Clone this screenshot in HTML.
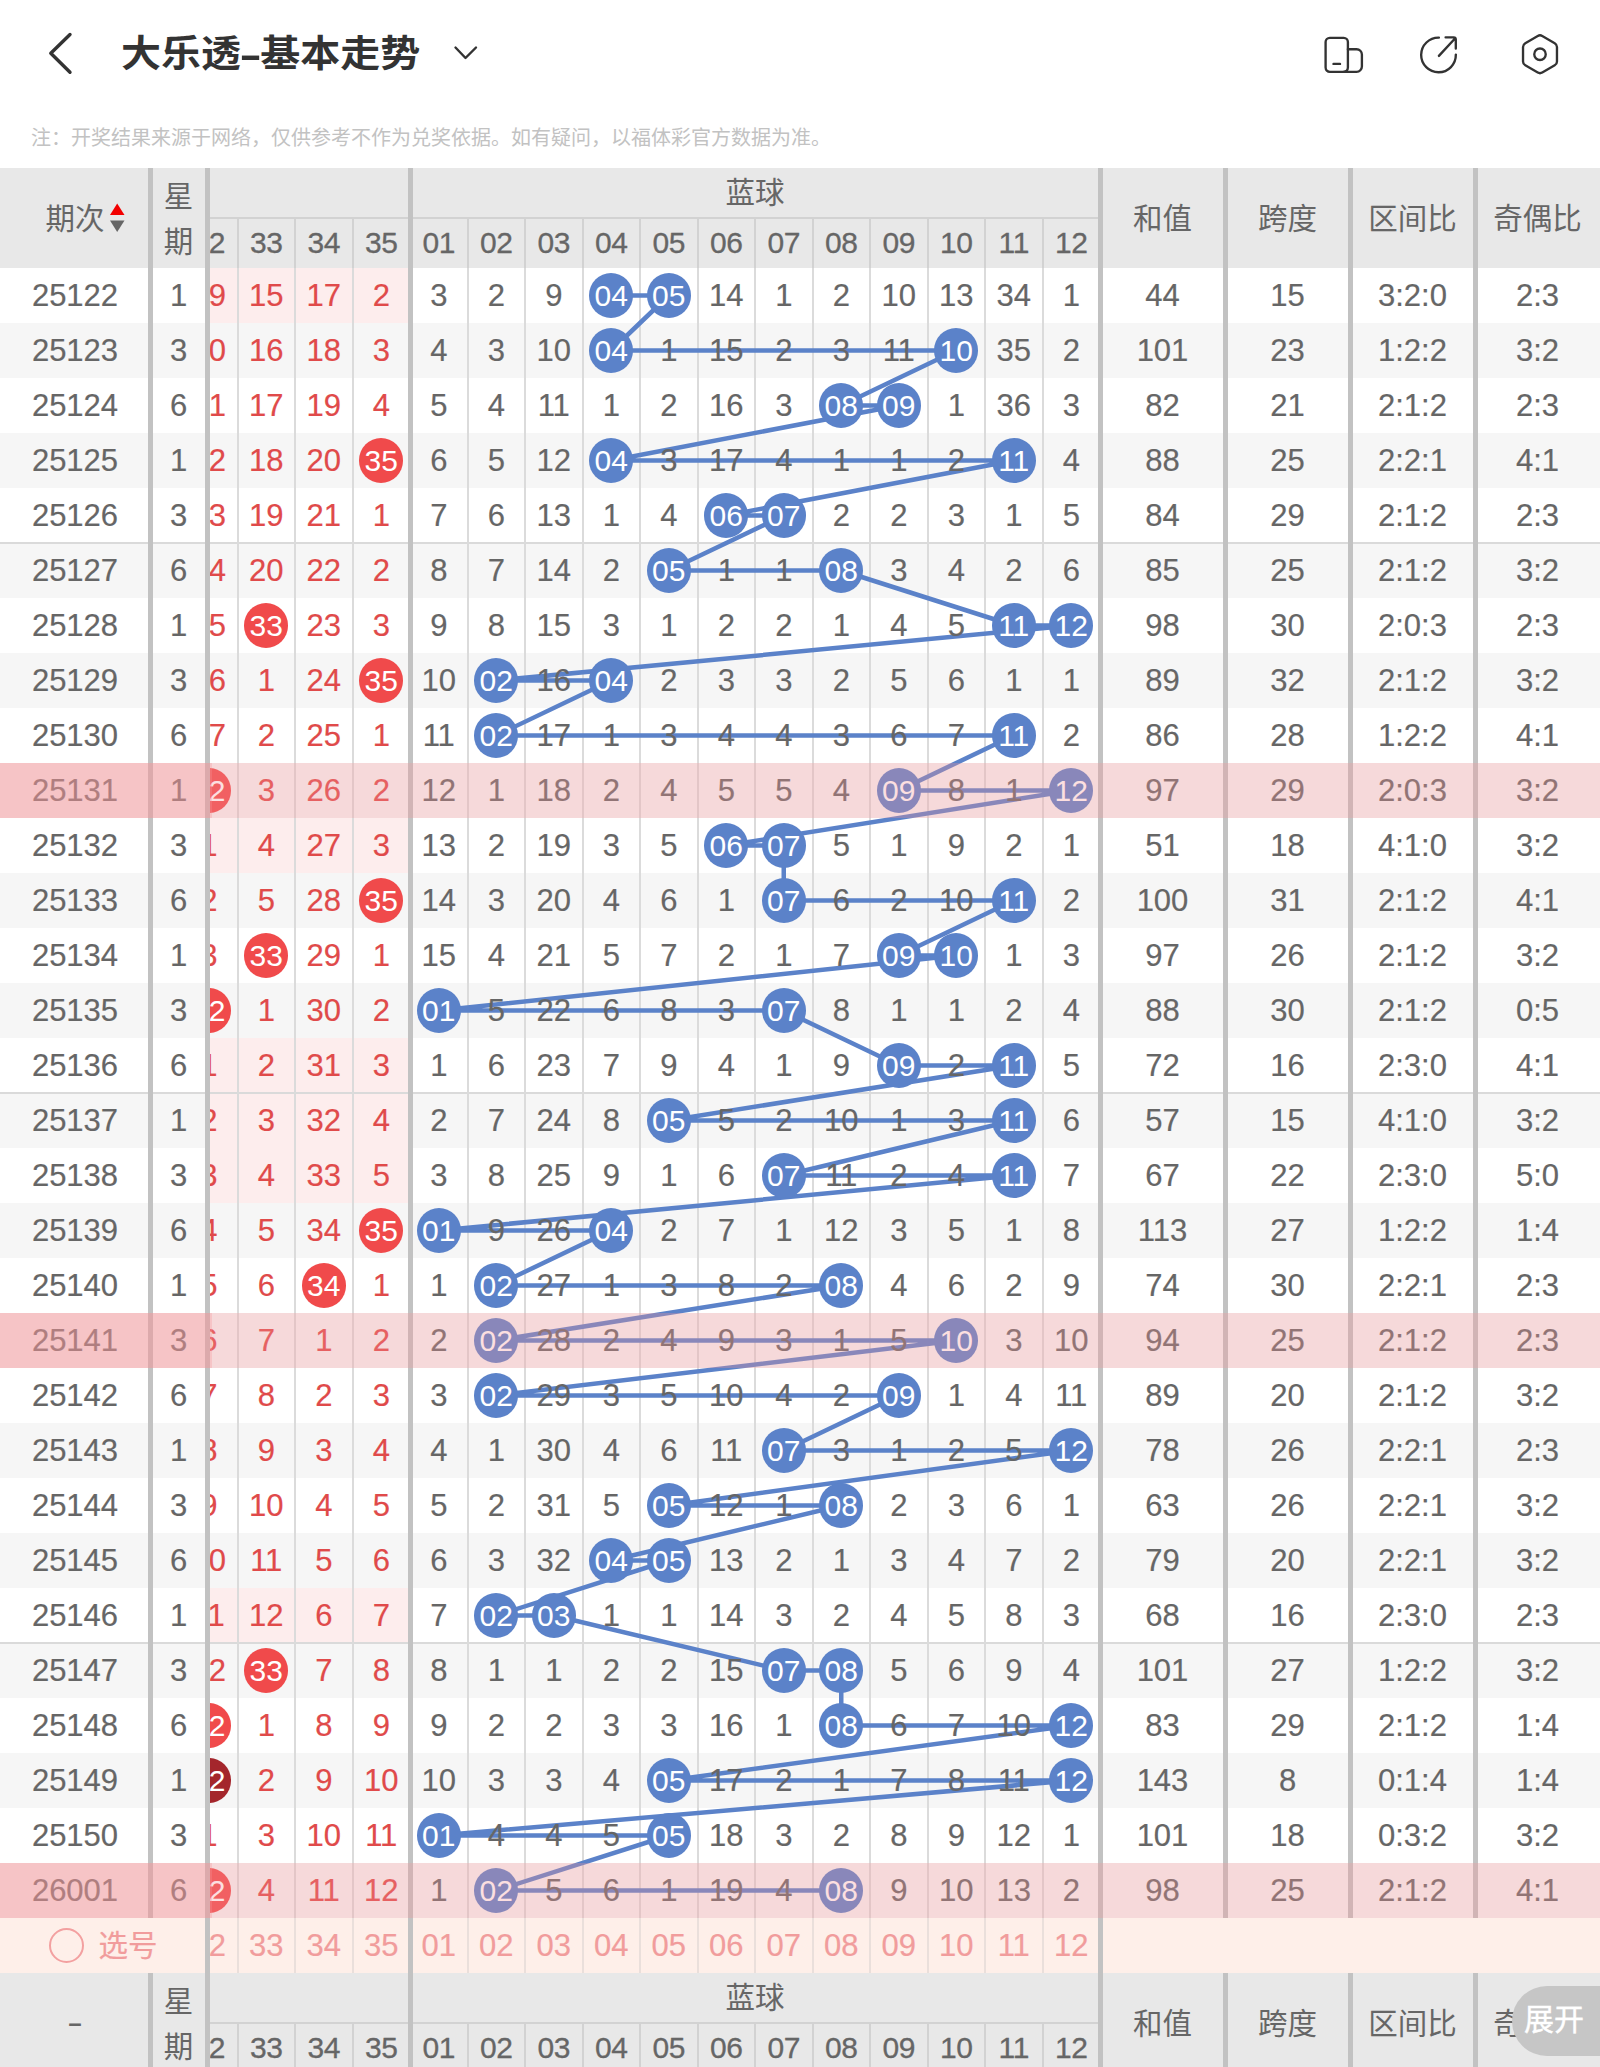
<!DOCTYPE html>
<html lang="zh-CN"><head><meta charset="utf-8"><title>大乐透-基本走势</title>
<style>
html,body{margin:0;padding:0;background:#fff;}
body{width:1600px;height:2067px;position:relative;overflow:hidden;font-family:"Liberation Sans","Noto Sans CJK SC",sans-serif;color:#666;}
.a{position:absolute;}
.t{position:absolute;height:55px;line-height:56px;text-align:center;font-size:31px;white-space:nowrap;-webkit-text-stroke:0.2px;}
.r{color:#e04a4a;}
.g{color:#666;}
.b{position:absolute;width:44.4px;height:45px;border-radius:50%;color:#fff;font-size:30px;line-height:46.2px;text-align:center;}
.bb{background:#5b82c9;}
.rb{background:#f04a4b;}
.db{background:#a4262c;}
.h{position:absolute;text-align:center;font-size:29.5px;color:#666;white-space:nowrap;}
.hn{position:absolute;height:50px;line-height:50px;text-align:center;font-size:30px;color:#666;-webkit-text-stroke:0.3px;letter-spacing:-0.4px;}
.vs{position:absolute;width:5px;background:#c2c2c2;}
.vl{position:absolute;width:2px;background:#dbdbdb;}
.s{position:absolute;height:55px;line-height:56px;text-align:center;font-size:31px;color:#f19c9c;-webkit-text-stroke:0.2px;}
#title{left:121px;top:23px;font-size:40px;line-height:60px;font-weight:bold;color:#333;white-space:nowrap;transform:scaleY(0.935);transform-origin:0 48.5px;}
#note{left:31px;top:123px;font-size:20px;line-height:30px;color:#c2c2c2;white-space:nowrap;}
</style></head><body>

<svg class="a" style="left:40px;top:25px" width="40" height="58" viewBox="40 25 40 58"><polyline points="70,34.5 50.8,53.3 70,72.3" fill="none" stroke="#333" stroke-width="3.4" stroke-linecap="round" stroke-linejoin="round"/></svg>
<div class="a" id="title">大乐透<span style="display:inline-block;margin:0 3px;transform:scaleX(1.7)">-</span>基本走势</div>
<svg class="a" style="left:445px;top:35px" width="40" height="36" viewBox="445 35 40 36"><polyline points="455.5,47.5 465.5,58 476,47.5" fill="none" stroke="#333" stroke-width="2.4" stroke-linecap="round" stroke-linejoin="round"/></svg>
<svg class="a" style="left:1310px;top:25px" width="280" height="60" viewBox="1310 25 280 60" fill="none" stroke="#333" stroke-width="2.35" stroke-linecap="round" stroke-linejoin="round">
<rect x="1325.6" y="37.8" width="22.3" height="34" rx="4.2"/>
<path d="M1347.9 49.2h8.7a5.3 5.3 0 0 1 5.3 5.3v12a5.3 5.3 0 0 1 -5.3 5.3h-13"/>
<path d="M1333.5 63.9h6.5"/>
<path d="M1438.9 37.6A17.35 17.35 0 1 0 1455.85 54.6"/>
<path d="M1438.9 55.9L1455.2 38.3M1445.6 37.3H1453.6a2.2 2.2 0 0 1 2.2 2.2V48.5"/>
<path d="M1542.25 35.95L1554.72 43.15A4.5 4.5 0 0 1 1556.97 47.05L1556.97 61.45A4.5 4.5 0 0 1 1554.72 65.35L1542.25 72.55A4.5 4.5 0 0 1 1537.75 72.55L1525.28 65.35A4.5 4.5 0 0 1 1523.03 61.45L1523.03 47.05A4.5 4.5 0 0 1 1525.28 43.15L1537.75 35.95A4.5 4.5 0 0 1 1542.25 35.95Z"/>
<circle cx="1540" cy="54.25" r="5.75"/>
</svg>
<div class="a" id="note">注：开奖结果来源于网络，仅供参考不作为兑奖依据。如有疑问，以福体彩官方数据为准。</div>
<div class="a" id="scroll" style="left:210px;top:0;width:1390px;height:2067px;overflow:hidden"><div class="a" style="left:-210px;top:0;width:1600px;height:2067px">
<div class="a" style="left:0;top:268px;width:1600px;height:55px;background:#fff"></div>
<div class="a" style="left:180px;top:268px;width:230px;height:55px;background:#fdeded"></div>
<div class="a" style="left:0;top:323px;width:1600px;height:55px;background:#f6f6f6"></div>
<div class="a" style="left:0;top:378px;width:1600px;height:55px;background:#fff"></div>
<div class="a" style="left:0;top:433px;width:1600px;height:55px;background:#f6f6f6"></div>
<div class="a" style="left:0;top:488px;width:1600px;height:55px;background:#fff"></div>
<div class="a" style="left:0;top:543px;width:1600px;height:55px;background:#f6f6f6"></div>
<div class="a" style="left:0;top:598px;width:1600px;height:55px;background:#fff"></div>
<div class="a" style="left:0;top:653px;width:1600px;height:55px;background:#f6f6f6"></div>
<div class="a" style="left:0;top:708px;width:1600px;height:55px;background:#fff"></div>
<div class="a" style="left:0;top:763px;width:1600px;height:55px;background:#f6f6f6"></div>
<div class="a" style="left:0;top:818px;width:1600px;height:55px;background:#fff"></div>
<div class="a" style="left:180px;top:818px;width:230px;height:55px;background:#fdeded"></div>
<div class="a" style="left:0;top:873px;width:1600px;height:55px;background:#f6f6f6"></div>
<div class="a" style="left:0;top:928px;width:1600px;height:55px;background:#fff"></div>
<div class="a" style="left:0;top:983px;width:1600px;height:55px;background:#f6f6f6"></div>
<div class="a" style="left:0;top:1038px;width:1600px;height:55px;background:#fff"></div>
<div class="a" style="left:180px;top:1038px;width:230px;height:55px;background:#fdeded"></div>
<div class="a" style="left:0;top:1093px;width:1600px;height:55px;background:#f6f6f6"></div>
<div class="a" style="left:180px;top:1093px;width:230px;height:55px;background:#fdeded"></div>
<div class="a" style="left:0;top:1148px;width:1600px;height:55px;background:#fff"></div>
<div class="a" style="left:180px;top:1148px;width:230px;height:55px;background:#fdeded"></div>
<div class="a" style="left:0;top:1203px;width:1600px;height:55px;background:#f6f6f6"></div>
<div class="a" style="left:0;top:1258px;width:1600px;height:55px;background:#fff"></div>
<div class="a" style="left:0;top:1313px;width:1600px;height:55px;background:#f6f6f6"></div>
<div class="a" style="left:0;top:1368px;width:1600px;height:55px;background:#fff"></div>
<div class="a" style="left:0;top:1423px;width:1600px;height:55px;background:#f6f6f6"></div>
<div class="a" style="left:0;top:1478px;width:1600px;height:55px;background:#fff"></div>
<div class="a" style="left:0;top:1533px;width:1600px;height:55px;background:#f6f6f6"></div>
<div class="a" style="left:0;top:1588px;width:1600px;height:55px;background:#fff"></div>
<div class="a" style="left:180px;top:1588px;width:230px;height:55px;background:#fdeded"></div>
<div class="a" style="left:0;top:1643px;width:1600px;height:55px;background:#f6f6f6"></div>
<div class="a" style="left:0;top:1698px;width:1600px;height:55px;background:#fff"></div>
<div class="a" style="left:0;top:1753px;width:1600px;height:55px;background:#f6f6f6"></div>
<div class="a" style="left:0;top:1808px;width:1600px;height:55px;background:#fff"></div>
<div class="a" style="left:0;top:1863px;width:1600px;height:55px;background:#f6f6f6"></div>
<div class="a" style="left:0;top:1918px;width:1600px;height:55px;background:#feefe9"></div>
<div class="a" style="left:0;top:168px;width:1600px;height:100px;background:#e8e8e8"></div>
<div class="a" style="left:210px;top:217px;width:890px;height:2px;background:#d2d2d2"></div>
<div class="vl" style="left:236.50px;top:218px;height:50px;background:#d2d2d2"></div>
<div class="vl" style="left:294.00px;top:218px;height:50px;background:#d2d2d2"></div>
<div class="vl" style="left:351.50px;top:218px;height:50px;background:#d2d2d2"></div>
<div class="vl" style="left:466.50px;top:218px;height:50px;background:#d2d2d2"></div>
<div class="vl" style="left:524.00px;top:218px;height:50px;background:#d2d2d2"></div>
<div class="vl" style="left:581.50px;top:218px;height:50px;background:#d2d2d2"></div>
<div class="vl" style="left:639.00px;top:218px;height:50px;background:#d2d2d2"></div>
<div class="vl" style="left:696.50px;top:218px;height:50px;background:#d2d2d2"></div>
<div class="vl" style="left:754.00px;top:218px;height:50px;background:#d2d2d2"></div>
<div class="vl" style="left:811.50px;top:218px;height:50px;background:#d2d2d2"></div>
<div class="vl" style="left:869.00px;top:218px;height:50px;background:#d2d2d2"></div>
<div class="vl" style="left:926.50px;top:218px;height:50px;background:#d2d2d2"></div>
<div class="vl" style="left:984.00px;top:218px;height:50px;background:#d2d2d2"></div>
<div class="vl" style="left:1041.50px;top:218px;height:50px;background:#d2d2d2"></div>
<div class="h" style="left:410px;width:690px;top:168px;height:50px;line-height:50px">蓝球</div>
<div class="hn" style="left:237.50px;width:57.5px;top:218px">33</div>
<div class="hn" style="left:295.00px;width:57.5px;top:218px">34</div>
<div class="hn" style="left:352.50px;width:57.5px;top:218px">35</div>
<div class="hn" style="left:410.00px;width:57.5px;top:218px">01</div>
<div class="hn" style="left:467.50px;width:57.5px;top:218px">02</div>
<div class="hn" style="left:525.00px;width:57.5px;top:218px">03</div>
<div class="hn" style="left:582.50px;width:57.5px;top:218px">04</div>
<div class="hn" style="left:640.00px;width:57.5px;top:218px">05</div>
<div class="hn" style="left:697.50px;width:57.5px;top:218px">06</div>
<div class="hn" style="left:755.00px;width:57.5px;top:218px">07</div>
<div class="hn" style="left:812.50px;width:57.5px;top:218px">08</div>
<div class="hn" style="left:870.00px;width:57.5px;top:218px">09</div>
<div class="hn" style="left:927.50px;width:57.5px;top:218px">10</div>
<div class="hn" style="left:985.00px;width:57.5px;top:218px">11</div>
<div class="hn" style="left:1042.50px;width:57.5px;top:218px">12</div>
<div class="h" style="left:1100.0px;width:125px;top:168px;height:100px;line-height:102px">和值</div>
<div class="h" style="left:1225.0px;width:125px;top:168px;height:100px;line-height:102px">跨度</div>
<div class="h" style="left:1350.0px;width:125px;top:168px;height:100px;line-height:102px">区间比</div>
<div class="h" style="left:1475.0px;width:125px;top:168px;height:100px;line-height:102px">奇偶比</div>
<div class="a" style="left:0;top:1973px;width:1600px;height:100px;background:#e8e8e8"></div>
<div class="a" style="left:210px;top:2022px;width:890px;height:2px;background:#d2d2d2"></div>
<div class="vl" style="left:236.50px;top:2023px;height:50px;background:#d2d2d2"></div>
<div class="vl" style="left:294.00px;top:2023px;height:50px;background:#d2d2d2"></div>
<div class="vl" style="left:351.50px;top:2023px;height:50px;background:#d2d2d2"></div>
<div class="vl" style="left:466.50px;top:2023px;height:50px;background:#d2d2d2"></div>
<div class="vl" style="left:524.00px;top:2023px;height:50px;background:#d2d2d2"></div>
<div class="vl" style="left:581.50px;top:2023px;height:50px;background:#d2d2d2"></div>
<div class="vl" style="left:639.00px;top:2023px;height:50px;background:#d2d2d2"></div>
<div class="vl" style="left:696.50px;top:2023px;height:50px;background:#d2d2d2"></div>
<div class="vl" style="left:754.00px;top:2023px;height:50px;background:#d2d2d2"></div>
<div class="vl" style="left:811.50px;top:2023px;height:50px;background:#d2d2d2"></div>
<div class="vl" style="left:869.00px;top:2023px;height:50px;background:#d2d2d2"></div>
<div class="vl" style="left:926.50px;top:2023px;height:50px;background:#d2d2d2"></div>
<div class="vl" style="left:984.00px;top:2023px;height:50px;background:#d2d2d2"></div>
<div class="vl" style="left:1041.50px;top:2023px;height:50px;background:#d2d2d2"></div>
<div class="h" style="left:410px;width:690px;top:1973px;height:50px;line-height:50px">蓝球</div>
<div class="hn" style="left:237.50px;width:57.5px;top:2023px">33</div>
<div class="hn" style="left:295.00px;width:57.5px;top:2023px">34</div>
<div class="hn" style="left:352.50px;width:57.5px;top:2023px">35</div>
<div class="hn" style="left:410.00px;width:57.5px;top:2023px">01</div>
<div class="hn" style="left:467.50px;width:57.5px;top:2023px">02</div>
<div class="hn" style="left:525.00px;width:57.5px;top:2023px">03</div>
<div class="hn" style="left:582.50px;width:57.5px;top:2023px">04</div>
<div class="hn" style="left:640.00px;width:57.5px;top:2023px">05</div>
<div class="hn" style="left:697.50px;width:57.5px;top:2023px">06</div>
<div class="hn" style="left:755.00px;width:57.5px;top:2023px">07</div>
<div class="hn" style="left:812.50px;width:57.5px;top:2023px">08</div>
<div class="hn" style="left:870.00px;width:57.5px;top:2023px">09</div>
<div class="hn" style="left:927.50px;width:57.5px;top:2023px">10</div>
<div class="hn" style="left:985.00px;width:57.5px;top:2023px">11</div>
<div class="hn" style="left:1042.50px;width:57.5px;top:2023px">12</div>
<div class="h" style="left:1100.0px;width:125px;top:1973px;height:100px;line-height:102px">和值</div>
<div class="h" style="left:1225.0px;width:125px;top:1973px;height:100px;line-height:102px">跨度</div>
<div class="h" style="left:1350.0px;width:125px;top:1973px;height:100px;line-height:102px">区间比</div>
<div class="h" style="left:1475.0px;width:125px;top:1973px;height:100px;line-height:102px">奇偶比</div>
<div class="hn" style="left:180.00px;width:57.5px;top:218px">32</div>
<div class="hn" style="left:180.00px;width:57.5px;top:2023px">32</div>
<div class="a" style="left:0;top:542px;width:1600px;height:2px;background:#dadada"></div>
<div class="a" style="left:0;top:1092px;width:1600px;height:2px;background:#dadada"></div>
<div class="a" style="left:0;top:1642px;width:1600px;height:2px;background:#dadada"></div>
<div class="vl" style="left:236.50px;top:268px;height:1650px"></div>
<div class="vl" style="left:236.50px;top:1918px;height:55px;background:#eadfdb"></div>
<div class="vl" style="left:294.00px;top:268px;height:1650px"></div>
<div class="vl" style="left:294.00px;top:1918px;height:55px;background:#eadfdb"></div>
<div class="vl" style="left:351.50px;top:268px;height:1650px"></div>
<div class="vl" style="left:351.50px;top:1918px;height:55px;background:#eadfdb"></div>
<div class="vl" style="left:466.50px;top:268px;height:1650px"></div>
<div class="vl" style="left:466.50px;top:1918px;height:55px;background:#eadfdb"></div>
<div class="vl" style="left:524.00px;top:268px;height:1650px"></div>
<div class="vl" style="left:524.00px;top:1918px;height:55px;background:#eadfdb"></div>
<div class="vl" style="left:581.50px;top:268px;height:1650px"></div>
<div class="vl" style="left:581.50px;top:1918px;height:55px;background:#eadfdb"></div>
<div class="vl" style="left:639.00px;top:268px;height:1650px"></div>
<div class="vl" style="left:639.00px;top:1918px;height:55px;background:#eadfdb"></div>
<div class="vl" style="left:696.50px;top:268px;height:1650px"></div>
<div class="vl" style="left:696.50px;top:1918px;height:55px;background:#eadfdb"></div>
<div class="vl" style="left:754.00px;top:268px;height:1650px"></div>
<div class="vl" style="left:754.00px;top:1918px;height:55px;background:#eadfdb"></div>
<div class="vl" style="left:811.50px;top:268px;height:1650px"></div>
<div class="vl" style="left:811.50px;top:1918px;height:55px;background:#eadfdb"></div>
<div class="vl" style="left:869.00px;top:268px;height:1650px"></div>
<div class="vl" style="left:869.00px;top:1918px;height:55px;background:#eadfdb"></div>
<div class="vl" style="left:926.50px;top:268px;height:1650px"></div>
<div class="vl" style="left:926.50px;top:1918px;height:55px;background:#eadfdb"></div>
<div class="vl" style="left:984.00px;top:268px;height:1650px"></div>
<div class="vl" style="left:984.00px;top:1918px;height:55px;background:#eadfdb"></div>
<div class="vl" style="left:1041.50px;top:268px;height:1650px"></div>
<div class="vl" style="left:1041.50px;top:1918px;height:55px;background:#eadfdb"></div>
<svg class="a" style="left:0;top:0" width="1600" height="2067"><polyline points="611.25,295.5 668.75,295.5 611.25,350.5 956.25,350.5 841.25,405.5 898.75,405.5 611.25,460.5 1013.75,460.5 726.25,515.5 783.75,515.5 668.75,570.5 841.25,570.5 1013.75,625.5 1071.25,625.5 496.25,680.5 611.25,680.5 496.25,735.5 1013.75,735.5 898.75,790.5 1071.25,790.5 726.25,845.5 783.75,845.5 783.75,900.5 1013.75,900.5 898.75,955.5 956.25,955.5 438.75,1010.5 783.75,1010.5 898.75,1065.5 1013.75,1065.5 668.75,1120.5 1013.75,1120.5 783.75,1175.5 1013.75,1175.5 438.75,1230.5 611.25,1230.5 496.25,1285.5 841.25,1285.5 496.25,1340.5 956.25,1340.5 496.25,1395.5 898.75,1395.5 783.75,1450.5 1071.25,1450.5 668.75,1505.5 841.25,1505.5 611.25,1560.5 668.75,1560.5 496.25,1615.5 553.75,1615.5 783.75,1670.5 841.25,1670.5 841.25,1725.5 1071.25,1725.5 668.75,1780.5 1071.25,1780.5 438.75,1835.5 668.75,1835.5 496.25,1890.5 841.25,1890.5" fill="none" stroke="#5b82c9" stroke-width="4.5" stroke-linejoin="round" stroke-linecap="round"/></svg>
<div class="t r" style="left:180.00px;top:268px;width:57.5px">19</div>
<div class="t r" style="left:237.50px;top:268px;width:57.5px">15</div>
<div class="t r" style="left:295.00px;top:268px;width:57.5px">17</div>
<div class="t r" style="left:352.50px;top:268px;width:57.5px">2</div>
<div class="t g" style="left:410.00px;top:268px;width:57.5px">3</div>
<div class="t g" style="left:467.50px;top:268px;width:57.5px">2</div>
<div class="t g" style="left:525.00px;top:268px;width:57.5px">9</div>
<div class="b bb" style="left:589.05px;top:273px">04</div>
<div class="b bb" style="left:646.55px;top:273px">05</div>
<div class="t g" style="left:697.50px;top:268px;width:57.5px">14</div>
<div class="t g" style="left:755.00px;top:268px;width:57.5px">1</div>
<div class="t g" style="left:812.50px;top:268px;width:57.5px">2</div>
<div class="t g" style="left:870.00px;top:268px;width:57.5px">10</div>
<div class="t g" style="left:927.50px;top:268px;width:57.5px">13</div>
<div class="t g" style="left:985.00px;top:268px;width:57.5px">34</div>
<div class="t g" style="left:1042.50px;top:268px;width:57.5px">1</div>
<div class="t g" style="left:1100.00px;top:268px;width:125px">44</div>
<div class="t g" style="left:1225.00px;top:268px;width:125px">15</div>
<div class="t g" style="left:1350.00px;top:268px;width:125px">3:2:0</div>
<div class="t g" style="left:1475.00px;top:268px;width:125px">2:3</div>
<div class="t r" style="left:180.00px;top:323px;width:57.5px">20</div>
<div class="t r" style="left:237.50px;top:323px;width:57.5px">16</div>
<div class="t r" style="left:295.00px;top:323px;width:57.5px">18</div>
<div class="t r" style="left:352.50px;top:323px;width:57.5px">3</div>
<div class="t g" style="left:410.00px;top:323px;width:57.5px">4</div>
<div class="t g" style="left:467.50px;top:323px;width:57.5px">3</div>
<div class="t g" style="left:525.00px;top:323px;width:57.5px">10</div>
<div class="b bb" style="left:589.05px;top:328px">04</div>
<div class="t g" style="left:640.00px;top:323px;width:57.5px">1</div>
<div class="t g" style="left:697.50px;top:323px;width:57.5px">15</div>
<div class="t g" style="left:755.00px;top:323px;width:57.5px">2</div>
<div class="t g" style="left:812.50px;top:323px;width:57.5px">3</div>
<div class="t g" style="left:870.00px;top:323px;width:57.5px">11</div>
<div class="b bb" style="left:934.05px;top:328px">10</div>
<div class="t g" style="left:985.00px;top:323px;width:57.5px">35</div>
<div class="t g" style="left:1042.50px;top:323px;width:57.5px">2</div>
<div class="t g" style="left:1100.00px;top:323px;width:125px">101</div>
<div class="t g" style="left:1225.00px;top:323px;width:125px">23</div>
<div class="t g" style="left:1350.00px;top:323px;width:125px">1:2:2</div>
<div class="t g" style="left:1475.00px;top:323px;width:125px">3:2</div>
<div class="t r" style="left:180.00px;top:378px;width:57.5px">21</div>
<div class="t r" style="left:237.50px;top:378px;width:57.5px">17</div>
<div class="t r" style="left:295.00px;top:378px;width:57.5px">19</div>
<div class="t r" style="left:352.50px;top:378px;width:57.5px">4</div>
<div class="t g" style="left:410.00px;top:378px;width:57.5px">5</div>
<div class="t g" style="left:467.50px;top:378px;width:57.5px">4</div>
<div class="t g" style="left:525.00px;top:378px;width:57.5px">11</div>
<div class="t g" style="left:582.50px;top:378px;width:57.5px">1</div>
<div class="t g" style="left:640.00px;top:378px;width:57.5px">2</div>
<div class="t g" style="left:697.50px;top:378px;width:57.5px">16</div>
<div class="t g" style="left:755.00px;top:378px;width:57.5px">3</div>
<div class="b bb" style="left:819.05px;top:383px">08</div>
<div class="b bb" style="left:876.55px;top:383px">09</div>
<div class="t g" style="left:927.50px;top:378px;width:57.5px">1</div>
<div class="t g" style="left:985.00px;top:378px;width:57.5px">36</div>
<div class="t g" style="left:1042.50px;top:378px;width:57.5px">3</div>
<div class="t g" style="left:1100.00px;top:378px;width:125px">82</div>
<div class="t g" style="left:1225.00px;top:378px;width:125px">21</div>
<div class="t g" style="left:1350.00px;top:378px;width:125px">2:1:2</div>
<div class="t g" style="left:1475.00px;top:378px;width:125px">2:3</div>
<div class="t r" style="left:180.00px;top:433px;width:57.5px">22</div>
<div class="t r" style="left:237.50px;top:433px;width:57.5px">18</div>
<div class="t r" style="left:295.00px;top:433px;width:57.5px">20</div>
<div class="b rb" style="left:359.05px;top:438px">35</div>
<div class="t g" style="left:410.00px;top:433px;width:57.5px">6</div>
<div class="t g" style="left:467.50px;top:433px;width:57.5px">5</div>
<div class="t g" style="left:525.00px;top:433px;width:57.5px">12</div>
<div class="b bb" style="left:589.05px;top:438px">04</div>
<div class="t g" style="left:640.00px;top:433px;width:57.5px">3</div>
<div class="t g" style="left:697.50px;top:433px;width:57.5px">17</div>
<div class="t g" style="left:755.00px;top:433px;width:57.5px">4</div>
<div class="t g" style="left:812.50px;top:433px;width:57.5px">1</div>
<div class="t g" style="left:870.00px;top:433px;width:57.5px">1</div>
<div class="t g" style="left:927.50px;top:433px;width:57.5px">2</div>
<div class="b bb" style="left:991.55px;top:438px">11</div>
<div class="t g" style="left:1042.50px;top:433px;width:57.5px">4</div>
<div class="t g" style="left:1100.00px;top:433px;width:125px">88</div>
<div class="t g" style="left:1225.00px;top:433px;width:125px">25</div>
<div class="t g" style="left:1350.00px;top:433px;width:125px">2:2:1</div>
<div class="t g" style="left:1475.00px;top:433px;width:125px">4:1</div>
<div class="t r" style="left:180.00px;top:488px;width:57.5px">23</div>
<div class="t r" style="left:237.50px;top:488px;width:57.5px">19</div>
<div class="t r" style="left:295.00px;top:488px;width:57.5px">21</div>
<div class="t r" style="left:352.50px;top:488px;width:57.5px">1</div>
<div class="t g" style="left:410.00px;top:488px;width:57.5px">7</div>
<div class="t g" style="left:467.50px;top:488px;width:57.5px">6</div>
<div class="t g" style="left:525.00px;top:488px;width:57.5px">13</div>
<div class="t g" style="left:582.50px;top:488px;width:57.5px">1</div>
<div class="t g" style="left:640.00px;top:488px;width:57.5px">4</div>
<div class="b bb" style="left:704.05px;top:493px">06</div>
<div class="b bb" style="left:761.55px;top:493px">07</div>
<div class="t g" style="left:812.50px;top:488px;width:57.5px">2</div>
<div class="t g" style="left:870.00px;top:488px;width:57.5px">2</div>
<div class="t g" style="left:927.50px;top:488px;width:57.5px">3</div>
<div class="t g" style="left:985.00px;top:488px;width:57.5px">1</div>
<div class="t g" style="left:1042.50px;top:488px;width:57.5px">5</div>
<div class="t g" style="left:1100.00px;top:488px;width:125px">84</div>
<div class="t g" style="left:1225.00px;top:488px;width:125px">29</div>
<div class="t g" style="left:1350.00px;top:488px;width:125px">2:1:2</div>
<div class="t g" style="left:1475.00px;top:488px;width:125px">2:3</div>
<div class="t r" style="left:180.00px;top:543px;width:57.5px">24</div>
<div class="t r" style="left:237.50px;top:543px;width:57.5px">20</div>
<div class="t r" style="left:295.00px;top:543px;width:57.5px">22</div>
<div class="t r" style="left:352.50px;top:543px;width:57.5px">2</div>
<div class="t g" style="left:410.00px;top:543px;width:57.5px">8</div>
<div class="t g" style="left:467.50px;top:543px;width:57.5px">7</div>
<div class="t g" style="left:525.00px;top:543px;width:57.5px">14</div>
<div class="t g" style="left:582.50px;top:543px;width:57.5px">2</div>
<div class="b bb" style="left:646.55px;top:548px">05</div>
<div class="t g" style="left:697.50px;top:543px;width:57.5px">1</div>
<div class="t g" style="left:755.00px;top:543px;width:57.5px">1</div>
<div class="b bb" style="left:819.05px;top:548px">08</div>
<div class="t g" style="left:870.00px;top:543px;width:57.5px">3</div>
<div class="t g" style="left:927.50px;top:543px;width:57.5px">4</div>
<div class="t g" style="left:985.00px;top:543px;width:57.5px">2</div>
<div class="t g" style="left:1042.50px;top:543px;width:57.5px">6</div>
<div class="t g" style="left:1100.00px;top:543px;width:125px">85</div>
<div class="t g" style="left:1225.00px;top:543px;width:125px">25</div>
<div class="t g" style="left:1350.00px;top:543px;width:125px">2:1:2</div>
<div class="t g" style="left:1475.00px;top:543px;width:125px">3:2</div>
<div class="t r" style="left:180.00px;top:598px;width:57.5px">25</div>
<div class="b rb" style="left:244.05px;top:603px">33</div>
<div class="t r" style="left:295.00px;top:598px;width:57.5px">23</div>
<div class="t r" style="left:352.50px;top:598px;width:57.5px">3</div>
<div class="t g" style="left:410.00px;top:598px;width:57.5px">9</div>
<div class="t g" style="left:467.50px;top:598px;width:57.5px">8</div>
<div class="t g" style="left:525.00px;top:598px;width:57.5px">15</div>
<div class="t g" style="left:582.50px;top:598px;width:57.5px">3</div>
<div class="t g" style="left:640.00px;top:598px;width:57.5px">1</div>
<div class="t g" style="left:697.50px;top:598px;width:57.5px">2</div>
<div class="t g" style="left:755.00px;top:598px;width:57.5px">2</div>
<div class="t g" style="left:812.50px;top:598px;width:57.5px">1</div>
<div class="t g" style="left:870.00px;top:598px;width:57.5px">4</div>
<div class="t g" style="left:927.50px;top:598px;width:57.5px">5</div>
<div class="b bb" style="left:991.55px;top:603px">11</div>
<div class="b bb" style="left:1049.05px;top:603px">12</div>
<div class="t g" style="left:1100.00px;top:598px;width:125px">98</div>
<div class="t g" style="left:1225.00px;top:598px;width:125px">30</div>
<div class="t g" style="left:1350.00px;top:598px;width:125px">2:0:3</div>
<div class="t g" style="left:1475.00px;top:598px;width:125px">2:3</div>
<div class="t r" style="left:180.00px;top:653px;width:57.5px">26</div>
<div class="t r" style="left:237.50px;top:653px;width:57.5px">1</div>
<div class="t r" style="left:295.00px;top:653px;width:57.5px">24</div>
<div class="b rb" style="left:359.05px;top:658px">35</div>
<div class="t g" style="left:410.00px;top:653px;width:57.5px">10</div>
<div class="b bb" style="left:474.05px;top:658px">02</div>
<div class="t g" style="left:525.00px;top:653px;width:57.5px">16</div>
<div class="b bb" style="left:589.05px;top:658px">04</div>
<div class="t g" style="left:640.00px;top:653px;width:57.5px">2</div>
<div class="t g" style="left:697.50px;top:653px;width:57.5px">3</div>
<div class="t g" style="left:755.00px;top:653px;width:57.5px">3</div>
<div class="t g" style="left:812.50px;top:653px;width:57.5px">2</div>
<div class="t g" style="left:870.00px;top:653px;width:57.5px">5</div>
<div class="t g" style="left:927.50px;top:653px;width:57.5px">6</div>
<div class="t g" style="left:985.00px;top:653px;width:57.5px">1</div>
<div class="t g" style="left:1042.50px;top:653px;width:57.5px">1</div>
<div class="t g" style="left:1100.00px;top:653px;width:125px">89</div>
<div class="t g" style="left:1225.00px;top:653px;width:125px">32</div>
<div class="t g" style="left:1350.00px;top:653px;width:125px">2:1:2</div>
<div class="t g" style="left:1475.00px;top:653px;width:125px">3:2</div>
<div class="t r" style="left:180.00px;top:708px;width:57.5px">27</div>
<div class="t r" style="left:237.50px;top:708px;width:57.5px">2</div>
<div class="t r" style="left:295.00px;top:708px;width:57.5px">25</div>
<div class="t r" style="left:352.50px;top:708px;width:57.5px">1</div>
<div class="t g" style="left:410.00px;top:708px;width:57.5px">11</div>
<div class="b bb" style="left:474.05px;top:713px">02</div>
<div class="t g" style="left:525.00px;top:708px;width:57.5px">17</div>
<div class="t g" style="left:582.50px;top:708px;width:57.5px">1</div>
<div class="t g" style="left:640.00px;top:708px;width:57.5px">3</div>
<div class="t g" style="left:697.50px;top:708px;width:57.5px">4</div>
<div class="t g" style="left:755.00px;top:708px;width:57.5px">4</div>
<div class="t g" style="left:812.50px;top:708px;width:57.5px">3</div>
<div class="t g" style="left:870.00px;top:708px;width:57.5px">6</div>
<div class="t g" style="left:927.50px;top:708px;width:57.5px">7</div>
<div class="b bb" style="left:991.55px;top:713px">11</div>
<div class="t g" style="left:1042.50px;top:708px;width:57.5px">2</div>
<div class="t g" style="left:1100.00px;top:708px;width:125px">86</div>
<div class="t g" style="left:1225.00px;top:708px;width:125px">28</div>
<div class="t g" style="left:1350.00px;top:708px;width:125px">1:2:2</div>
<div class="t g" style="left:1475.00px;top:708px;width:125px">4:1</div>
<div class="b rb" style="left:186.55px;top:768px">32</div>
<div class="t r" style="left:237.50px;top:763px;width:57.5px">3</div>
<div class="t r" style="left:295.00px;top:763px;width:57.5px">26</div>
<div class="t r" style="left:352.50px;top:763px;width:57.5px">2</div>
<div class="t g" style="left:410.00px;top:763px;width:57.5px">12</div>
<div class="t g" style="left:467.50px;top:763px;width:57.5px">1</div>
<div class="t g" style="left:525.00px;top:763px;width:57.5px">18</div>
<div class="t g" style="left:582.50px;top:763px;width:57.5px">2</div>
<div class="t g" style="left:640.00px;top:763px;width:57.5px">4</div>
<div class="t g" style="left:697.50px;top:763px;width:57.5px">5</div>
<div class="t g" style="left:755.00px;top:763px;width:57.5px">5</div>
<div class="t g" style="left:812.50px;top:763px;width:57.5px">4</div>
<div class="b bb" style="left:876.55px;top:768px">09</div>
<div class="t g" style="left:927.50px;top:763px;width:57.5px">8</div>
<div class="t g" style="left:985.00px;top:763px;width:57.5px">1</div>
<div class="b bb" style="left:1049.05px;top:768px">12</div>
<div class="t g" style="left:1100.00px;top:763px;width:125px">97</div>
<div class="t g" style="left:1225.00px;top:763px;width:125px">29</div>
<div class="t g" style="left:1350.00px;top:763px;width:125px">2:0:3</div>
<div class="t g" style="left:1475.00px;top:763px;width:125px">3:2</div>
<div class="t r" style="left:180.00px;top:818px;width:57.5px">1</div>
<div class="t r" style="left:237.50px;top:818px;width:57.5px">4</div>
<div class="t r" style="left:295.00px;top:818px;width:57.5px">27</div>
<div class="t r" style="left:352.50px;top:818px;width:57.5px">3</div>
<div class="t g" style="left:410.00px;top:818px;width:57.5px">13</div>
<div class="t g" style="left:467.50px;top:818px;width:57.5px">2</div>
<div class="t g" style="left:525.00px;top:818px;width:57.5px">19</div>
<div class="t g" style="left:582.50px;top:818px;width:57.5px">3</div>
<div class="t g" style="left:640.00px;top:818px;width:57.5px">5</div>
<div class="b bb" style="left:704.05px;top:823px">06</div>
<div class="b bb" style="left:761.55px;top:823px">07</div>
<div class="t g" style="left:812.50px;top:818px;width:57.5px">5</div>
<div class="t g" style="left:870.00px;top:818px;width:57.5px">1</div>
<div class="t g" style="left:927.50px;top:818px;width:57.5px">9</div>
<div class="t g" style="left:985.00px;top:818px;width:57.5px">2</div>
<div class="t g" style="left:1042.50px;top:818px;width:57.5px">1</div>
<div class="t g" style="left:1100.00px;top:818px;width:125px">51</div>
<div class="t g" style="left:1225.00px;top:818px;width:125px">18</div>
<div class="t g" style="left:1350.00px;top:818px;width:125px">4:1:0</div>
<div class="t g" style="left:1475.00px;top:818px;width:125px">3:2</div>
<div class="t r" style="left:180.00px;top:873px;width:57.5px">2</div>
<div class="t r" style="left:237.50px;top:873px;width:57.5px">5</div>
<div class="t r" style="left:295.00px;top:873px;width:57.5px">28</div>
<div class="b rb" style="left:359.05px;top:878px">35</div>
<div class="t g" style="left:410.00px;top:873px;width:57.5px">14</div>
<div class="t g" style="left:467.50px;top:873px;width:57.5px">3</div>
<div class="t g" style="left:525.00px;top:873px;width:57.5px">20</div>
<div class="t g" style="left:582.50px;top:873px;width:57.5px">4</div>
<div class="t g" style="left:640.00px;top:873px;width:57.5px">6</div>
<div class="t g" style="left:697.50px;top:873px;width:57.5px">1</div>
<div class="b bb" style="left:761.55px;top:878px">07</div>
<div class="t g" style="left:812.50px;top:873px;width:57.5px">6</div>
<div class="t g" style="left:870.00px;top:873px;width:57.5px">2</div>
<div class="t g" style="left:927.50px;top:873px;width:57.5px">10</div>
<div class="b bb" style="left:991.55px;top:878px">11</div>
<div class="t g" style="left:1042.50px;top:873px;width:57.5px">2</div>
<div class="t g" style="left:1100.00px;top:873px;width:125px">100</div>
<div class="t g" style="left:1225.00px;top:873px;width:125px">31</div>
<div class="t g" style="left:1350.00px;top:873px;width:125px">2:1:2</div>
<div class="t g" style="left:1475.00px;top:873px;width:125px">4:1</div>
<div class="t r" style="left:180.00px;top:928px;width:57.5px">3</div>
<div class="b rb" style="left:244.05px;top:933px">33</div>
<div class="t r" style="left:295.00px;top:928px;width:57.5px">29</div>
<div class="t r" style="left:352.50px;top:928px;width:57.5px">1</div>
<div class="t g" style="left:410.00px;top:928px;width:57.5px">15</div>
<div class="t g" style="left:467.50px;top:928px;width:57.5px">4</div>
<div class="t g" style="left:525.00px;top:928px;width:57.5px">21</div>
<div class="t g" style="left:582.50px;top:928px;width:57.5px">5</div>
<div class="t g" style="left:640.00px;top:928px;width:57.5px">7</div>
<div class="t g" style="left:697.50px;top:928px;width:57.5px">2</div>
<div class="t g" style="left:755.00px;top:928px;width:57.5px">1</div>
<div class="t g" style="left:812.50px;top:928px;width:57.5px">7</div>
<div class="b bb" style="left:876.55px;top:933px">09</div>
<div class="b bb" style="left:934.05px;top:933px">10</div>
<div class="t g" style="left:985.00px;top:928px;width:57.5px">1</div>
<div class="t g" style="left:1042.50px;top:928px;width:57.5px">3</div>
<div class="t g" style="left:1100.00px;top:928px;width:125px">97</div>
<div class="t g" style="left:1225.00px;top:928px;width:125px">26</div>
<div class="t g" style="left:1350.00px;top:928px;width:125px">2:1:2</div>
<div class="t g" style="left:1475.00px;top:928px;width:125px">3:2</div>
<div class="b rb" style="left:186.55px;top:988px">32</div>
<div class="t r" style="left:237.50px;top:983px;width:57.5px">1</div>
<div class="t r" style="left:295.00px;top:983px;width:57.5px">30</div>
<div class="t r" style="left:352.50px;top:983px;width:57.5px">2</div>
<div class="b bb" style="left:416.55px;top:988px">01</div>
<div class="t g" style="left:467.50px;top:983px;width:57.5px">5</div>
<div class="t g" style="left:525.00px;top:983px;width:57.5px">22</div>
<div class="t g" style="left:582.50px;top:983px;width:57.5px">6</div>
<div class="t g" style="left:640.00px;top:983px;width:57.5px">8</div>
<div class="t g" style="left:697.50px;top:983px;width:57.5px">3</div>
<div class="b bb" style="left:761.55px;top:988px">07</div>
<div class="t g" style="left:812.50px;top:983px;width:57.5px">8</div>
<div class="t g" style="left:870.00px;top:983px;width:57.5px">1</div>
<div class="t g" style="left:927.50px;top:983px;width:57.5px">1</div>
<div class="t g" style="left:985.00px;top:983px;width:57.5px">2</div>
<div class="t g" style="left:1042.50px;top:983px;width:57.5px">4</div>
<div class="t g" style="left:1100.00px;top:983px;width:125px">88</div>
<div class="t g" style="left:1225.00px;top:983px;width:125px">30</div>
<div class="t g" style="left:1350.00px;top:983px;width:125px">2:1:2</div>
<div class="t g" style="left:1475.00px;top:983px;width:125px">0:5</div>
<div class="t r" style="left:180.00px;top:1038px;width:57.5px">1</div>
<div class="t r" style="left:237.50px;top:1038px;width:57.5px">2</div>
<div class="t r" style="left:295.00px;top:1038px;width:57.5px">31</div>
<div class="t r" style="left:352.50px;top:1038px;width:57.5px">3</div>
<div class="t g" style="left:410.00px;top:1038px;width:57.5px">1</div>
<div class="t g" style="left:467.50px;top:1038px;width:57.5px">6</div>
<div class="t g" style="left:525.00px;top:1038px;width:57.5px">23</div>
<div class="t g" style="left:582.50px;top:1038px;width:57.5px">7</div>
<div class="t g" style="left:640.00px;top:1038px;width:57.5px">9</div>
<div class="t g" style="left:697.50px;top:1038px;width:57.5px">4</div>
<div class="t g" style="left:755.00px;top:1038px;width:57.5px">1</div>
<div class="t g" style="left:812.50px;top:1038px;width:57.5px">9</div>
<div class="b bb" style="left:876.55px;top:1043px">09</div>
<div class="t g" style="left:927.50px;top:1038px;width:57.5px">2</div>
<div class="b bb" style="left:991.55px;top:1043px">11</div>
<div class="t g" style="left:1042.50px;top:1038px;width:57.5px">5</div>
<div class="t g" style="left:1100.00px;top:1038px;width:125px">72</div>
<div class="t g" style="left:1225.00px;top:1038px;width:125px">16</div>
<div class="t g" style="left:1350.00px;top:1038px;width:125px">2:3:0</div>
<div class="t g" style="left:1475.00px;top:1038px;width:125px">4:1</div>
<div class="t r" style="left:180.00px;top:1093px;width:57.5px">2</div>
<div class="t r" style="left:237.50px;top:1093px;width:57.5px">3</div>
<div class="t r" style="left:295.00px;top:1093px;width:57.5px">32</div>
<div class="t r" style="left:352.50px;top:1093px;width:57.5px">4</div>
<div class="t g" style="left:410.00px;top:1093px;width:57.5px">2</div>
<div class="t g" style="left:467.50px;top:1093px;width:57.5px">7</div>
<div class="t g" style="left:525.00px;top:1093px;width:57.5px">24</div>
<div class="t g" style="left:582.50px;top:1093px;width:57.5px">8</div>
<div class="b bb" style="left:646.55px;top:1098px">05</div>
<div class="t g" style="left:697.50px;top:1093px;width:57.5px">5</div>
<div class="t g" style="left:755.00px;top:1093px;width:57.5px">2</div>
<div class="t g" style="left:812.50px;top:1093px;width:57.5px">10</div>
<div class="t g" style="left:870.00px;top:1093px;width:57.5px">1</div>
<div class="t g" style="left:927.50px;top:1093px;width:57.5px">3</div>
<div class="b bb" style="left:991.55px;top:1098px">11</div>
<div class="t g" style="left:1042.50px;top:1093px;width:57.5px">6</div>
<div class="t g" style="left:1100.00px;top:1093px;width:125px">57</div>
<div class="t g" style="left:1225.00px;top:1093px;width:125px">15</div>
<div class="t g" style="left:1350.00px;top:1093px;width:125px">4:1:0</div>
<div class="t g" style="left:1475.00px;top:1093px;width:125px">3:2</div>
<div class="t r" style="left:180.00px;top:1148px;width:57.5px">3</div>
<div class="t r" style="left:237.50px;top:1148px;width:57.5px">4</div>
<div class="t r" style="left:295.00px;top:1148px;width:57.5px">33</div>
<div class="t r" style="left:352.50px;top:1148px;width:57.5px">5</div>
<div class="t g" style="left:410.00px;top:1148px;width:57.5px">3</div>
<div class="t g" style="left:467.50px;top:1148px;width:57.5px">8</div>
<div class="t g" style="left:525.00px;top:1148px;width:57.5px">25</div>
<div class="t g" style="left:582.50px;top:1148px;width:57.5px">9</div>
<div class="t g" style="left:640.00px;top:1148px;width:57.5px">1</div>
<div class="t g" style="left:697.50px;top:1148px;width:57.5px">6</div>
<div class="b bb" style="left:761.55px;top:1153px">07</div>
<div class="t g" style="left:812.50px;top:1148px;width:57.5px">11</div>
<div class="t g" style="left:870.00px;top:1148px;width:57.5px">2</div>
<div class="t g" style="left:927.50px;top:1148px;width:57.5px">4</div>
<div class="b bb" style="left:991.55px;top:1153px">11</div>
<div class="t g" style="left:1042.50px;top:1148px;width:57.5px">7</div>
<div class="t g" style="left:1100.00px;top:1148px;width:125px">67</div>
<div class="t g" style="left:1225.00px;top:1148px;width:125px">22</div>
<div class="t g" style="left:1350.00px;top:1148px;width:125px">2:3:0</div>
<div class="t g" style="left:1475.00px;top:1148px;width:125px">5:0</div>
<div class="t r" style="left:180.00px;top:1203px;width:57.5px">4</div>
<div class="t r" style="left:237.50px;top:1203px;width:57.5px">5</div>
<div class="t r" style="left:295.00px;top:1203px;width:57.5px">34</div>
<div class="b rb" style="left:359.05px;top:1208px">35</div>
<div class="b bb" style="left:416.55px;top:1208px">01</div>
<div class="t g" style="left:467.50px;top:1203px;width:57.5px">9</div>
<div class="t g" style="left:525.00px;top:1203px;width:57.5px">26</div>
<div class="b bb" style="left:589.05px;top:1208px">04</div>
<div class="t g" style="left:640.00px;top:1203px;width:57.5px">2</div>
<div class="t g" style="left:697.50px;top:1203px;width:57.5px">7</div>
<div class="t g" style="left:755.00px;top:1203px;width:57.5px">1</div>
<div class="t g" style="left:812.50px;top:1203px;width:57.5px">12</div>
<div class="t g" style="left:870.00px;top:1203px;width:57.5px">3</div>
<div class="t g" style="left:927.50px;top:1203px;width:57.5px">5</div>
<div class="t g" style="left:985.00px;top:1203px;width:57.5px">1</div>
<div class="t g" style="left:1042.50px;top:1203px;width:57.5px">8</div>
<div class="t g" style="left:1100.00px;top:1203px;width:125px">113</div>
<div class="t g" style="left:1225.00px;top:1203px;width:125px">27</div>
<div class="t g" style="left:1350.00px;top:1203px;width:125px">1:2:2</div>
<div class="t g" style="left:1475.00px;top:1203px;width:125px">1:4</div>
<div class="t r" style="left:180.00px;top:1258px;width:57.5px">5</div>
<div class="t r" style="left:237.50px;top:1258px;width:57.5px">6</div>
<div class="b rb" style="left:301.55px;top:1263px">34</div>
<div class="t r" style="left:352.50px;top:1258px;width:57.5px">1</div>
<div class="t g" style="left:410.00px;top:1258px;width:57.5px">1</div>
<div class="b bb" style="left:474.05px;top:1263px">02</div>
<div class="t g" style="left:525.00px;top:1258px;width:57.5px">27</div>
<div class="t g" style="left:582.50px;top:1258px;width:57.5px">1</div>
<div class="t g" style="left:640.00px;top:1258px;width:57.5px">3</div>
<div class="t g" style="left:697.50px;top:1258px;width:57.5px">8</div>
<div class="t g" style="left:755.00px;top:1258px;width:57.5px">2</div>
<div class="b bb" style="left:819.05px;top:1263px">08</div>
<div class="t g" style="left:870.00px;top:1258px;width:57.5px">4</div>
<div class="t g" style="left:927.50px;top:1258px;width:57.5px">6</div>
<div class="t g" style="left:985.00px;top:1258px;width:57.5px">2</div>
<div class="t g" style="left:1042.50px;top:1258px;width:57.5px">9</div>
<div class="t g" style="left:1100.00px;top:1258px;width:125px">74</div>
<div class="t g" style="left:1225.00px;top:1258px;width:125px">30</div>
<div class="t g" style="left:1350.00px;top:1258px;width:125px">2:2:1</div>
<div class="t g" style="left:1475.00px;top:1258px;width:125px">2:3</div>
<div class="t r" style="left:180.00px;top:1313px;width:57.5px">6</div>
<div class="t r" style="left:237.50px;top:1313px;width:57.5px">7</div>
<div class="t r" style="left:295.00px;top:1313px;width:57.5px">1</div>
<div class="t r" style="left:352.50px;top:1313px;width:57.5px">2</div>
<div class="t g" style="left:410.00px;top:1313px;width:57.5px">2</div>
<div class="b bb" style="left:474.05px;top:1318px">02</div>
<div class="t g" style="left:525.00px;top:1313px;width:57.5px">28</div>
<div class="t g" style="left:582.50px;top:1313px;width:57.5px">2</div>
<div class="t g" style="left:640.00px;top:1313px;width:57.5px">4</div>
<div class="t g" style="left:697.50px;top:1313px;width:57.5px">9</div>
<div class="t g" style="left:755.00px;top:1313px;width:57.5px">3</div>
<div class="t g" style="left:812.50px;top:1313px;width:57.5px">1</div>
<div class="t g" style="left:870.00px;top:1313px;width:57.5px">5</div>
<div class="b bb" style="left:934.05px;top:1318px">10</div>
<div class="t g" style="left:985.00px;top:1313px;width:57.5px">3</div>
<div class="t g" style="left:1042.50px;top:1313px;width:57.5px">10</div>
<div class="t g" style="left:1100.00px;top:1313px;width:125px">94</div>
<div class="t g" style="left:1225.00px;top:1313px;width:125px">25</div>
<div class="t g" style="left:1350.00px;top:1313px;width:125px">2:1:2</div>
<div class="t g" style="left:1475.00px;top:1313px;width:125px">2:3</div>
<div class="t r" style="left:180.00px;top:1368px;width:57.5px">7</div>
<div class="t r" style="left:237.50px;top:1368px;width:57.5px">8</div>
<div class="t r" style="left:295.00px;top:1368px;width:57.5px">2</div>
<div class="t r" style="left:352.50px;top:1368px;width:57.5px">3</div>
<div class="t g" style="left:410.00px;top:1368px;width:57.5px">3</div>
<div class="b bb" style="left:474.05px;top:1373px">02</div>
<div class="t g" style="left:525.00px;top:1368px;width:57.5px">29</div>
<div class="t g" style="left:582.50px;top:1368px;width:57.5px">3</div>
<div class="t g" style="left:640.00px;top:1368px;width:57.5px">5</div>
<div class="t g" style="left:697.50px;top:1368px;width:57.5px">10</div>
<div class="t g" style="left:755.00px;top:1368px;width:57.5px">4</div>
<div class="t g" style="left:812.50px;top:1368px;width:57.5px">2</div>
<div class="b bb" style="left:876.55px;top:1373px">09</div>
<div class="t g" style="left:927.50px;top:1368px;width:57.5px">1</div>
<div class="t g" style="left:985.00px;top:1368px;width:57.5px">4</div>
<div class="t g" style="left:1042.50px;top:1368px;width:57.5px">11</div>
<div class="t g" style="left:1100.00px;top:1368px;width:125px">89</div>
<div class="t g" style="left:1225.00px;top:1368px;width:125px">20</div>
<div class="t g" style="left:1350.00px;top:1368px;width:125px">2:1:2</div>
<div class="t g" style="left:1475.00px;top:1368px;width:125px">3:2</div>
<div class="t r" style="left:180.00px;top:1423px;width:57.5px">8</div>
<div class="t r" style="left:237.50px;top:1423px;width:57.5px">9</div>
<div class="t r" style="left:295.00px;top:1423px;width:57.5px">3</div>
<div class="t r" style="left:352.50px;top:1423px;width:57.5px">4</div>
<div class="t g" style="left:410.00px;top:1423px;width:57.5px">4</div>
<div class="t g" style="left:467.50px;top:1423px;width:57.5px">1</div>
<div class="t g" style="left:525.00px;top:1423px;width:57.5px">30</div>
<div class="t g" style="left:582.50px;top:1423px;width:57.5px">4</div>
<div class="t g" style="left:640.00px;top:1423px;width:57.5px">6</div>
<div class="t g" style="left:697.50px;top:1423px;width:57.5px">11</div>
<div class="b bb" style="left:761.55px;top:1428px">07</div>
<div class="t g" style="left:812.50px;top:1423px;width:57.5px">3</div>
<div class="t g" style="left:870.00px;top:1423px;width:57.5px">1</div>
<div class="t g" style="left:927.50px;top:1423px;width:57.5px">2</div>
<div class="t g" style="left:985.00px;top:1423px;width:57.5px">5</div>
<div class="b bb" style="left:1049.05px;top:1428px">12</div>
<div class="t g" style="left:1100.00px;top:1423px;width:125px">78</div>
<div class="t g" style="left:1225.00px;top:1423px;width:125px">26</div>
<div class="t g" style="left:1350.00px;top:1423px;width:125px">2:2:1</div>
<div class="t g" style="left:1475.00px;top:1423px;width:125px">2:3</div>
<div class="t r" style="left:180.00px;top:1478px;width:57.5px">9</div>
<div class="t r" style="left:237.50px;top:1478px;width:57.5px">10</div>
<div class="t r" style="left:295.00px;top:1478px;width:57.5px">4</div>
<div class="t r" style="left:352.50px;top:1478px;width:57.5px">5</div>
<div class="t g" style="left:410.00px;top:1478px;width:57.5px">5</div>
<div class="t g" style="left:467.50px;top:1478px;width:57.5px">2</div>
<div class="t g" style="left:525.00px;top:1478px;width:57.5px">31</div>
<div class="t g" style="left:582.50px;top:1478px;width:57.5px">5</div>
<div class="b bb" style="left:646.55px;top:1483px">05</div>
<div class="t g" style="left:697.50px;top:1478px;width:57.5px">12</div>
<div class="t g" style="left:755.00px;top:1478px;width:57.5px">1</div>
<div class="b bb" style="left:819.05px;top:1483px">08</div>
<div class="t g" style="left:870.00px;top:1478px;width:57.5px">2</div>
<div class="t g" style="left:927.50px;top:1478px;width:57.5px">3</div>
<div class="t g" style="left:985.00px;top:1478px;width:57.5px">6</div>
<div class="t g" style="left:1042.50px;top:1478px;width:57.5px">1</div>
<div class="t g" style="left:1100.00px;top:1478px;width:125px">63</div>
<div class="t g" style="left:1225.00px;top:1478px;width:125px">26</div>
<div class="t g" style="left:1350.00px;top:1478px;width:125px">2:2:1</div>
<div class="t g" style="left:1475.00px;top:1478px;width:125px">3:2</div>
<div class="t r" style="left:180.00px;top:1533px;width:57.5px">10</div>
<div class="t r" style="left:237.50px;top:1533px;width:57.5px">11</div>
<div class="t r" style="left:295.00px;top:1533px;width:57.5px">5</div>
<div class="t r" style="left:352.50px;top:1533px;width:57.5px">6</div>
<div class="t g" style="left:410.00px;top:1533px;width:57.5px">6</div>
<div class="t g" style="left:467.50px;top:1533px;width:57.5px">3</div>
<div class="t g" style="left:525.00px;top:1533px;width:57.5px">32</div>
<div class="b bb" style="left:589.05px;top:1538px">04</div>
<div class="b bb" style="left:646.55px;top:1538px">05</div>
<div class="t g" style="left:697.50px;top:1533px;width:57.5px">13</div>
<div class="t g" style="left:755.00px;top:1533px;width:57.5px">2</div>
<div class="t g" style="left:812.50px;top:1533px;width:57.5px">1</div>
<div class="t g" style="left:870.00px;top:1533px;width:57.5px">3</div>
<div class="t g" style="left:927.50px;top:1533px;width:57.5px">4</div>
<div class="t g" style="left:985.00px;top:1533px;width:57.5px">7</div>
<div class="t g" style="left:1042.50px;top:1533px;width:57.5px">2</div>
<div class="t g" style="left:1100.00px;top:1533px;width:125px">79</div>
<div class="t g" style="left:1225.00px;top:1533px;width:125px">20</div>
<div class="t g" style="left:1350.00px;top:1533px;width:125px">2:2:1</div>
<div class="t g" style="left:1475.00px;top:1533px;width:125px">3:2</div>
<div class="t r" style="left:180.00px;top:1588px;width:57.5px">11</div>
<div class="t r" style="left:237.50px;top:1588px;width:57.5px">12</div>
<div class="t r" style="left:295.00px;top:1588px;width:57.5px">6</div>
<div class="t r" style="left:352.50px;top:1588px;width:57.5px">7</div>
<div class="t g" style="left:410.00px;top:1588px;width:57.5px">7</div>
<div class="b bb" style="left:474.05px;top:1593px">02</div>
<div class="b bb" style="left:531.55px;top:1593px">03</div>
<div class="t g" style="left:582.50px;top:1588px;width:57.5px">1</div>
<div class="t g" style="left:640.00px;top:1588px;width:57.5px">1</div>
<div class="t g" style="left:697.50px;top:1588px;width:57.5px">14</div>
<div class="t g" style="left:755.00px;top:1588px;width:57.5px">3</div>
<div class="t g" style="left:812.50px;top:1588px;width:57.5px">2</div>
<div class="t g" style="left:870.00px;top:1588px;width:57.5px">4</div>
<div class="t g" style="left:927.50px;top:1588px;width:57.5px">5</div>
<div class="t g" style="left:985.00px;top:1588px;width:57.5px">8</div>
<div class="t g" style="left:1042.50px;top:1588px;width:57.5px">3</div>
<div class="t g" style="left:1100.00px;top:1588px;width:125px">68</div>
<div class="t g" style="left:1225.00px;top:1588px;width:125px">16</div>
<div class="t g" style="left:1350.00px;top:1588px;width:125px">2:3:0</div>
<div class="t g" style="left:1475.00px;top:1588px;width:125px">2:3</div>
<div class="t r" style="left:180.00px;top:1643px;width:57.5px">12</div>
<div class="b rb" style="left:244.05px;top:1648px">33</div>
<div class="t r" style="left:295.00px;top:1643px;width:57.5px">7</div>
<div class="t r" style="left:352.50px;top:1643px;width:57.5px">8</div>
<div class="t g" style="left:410.00px;top:1643px;width:57.5px">8</div>
<div class="t g" style="left:467.50px;top:1643px;width:57.5px">1</div>
<div class="t g" style="left:525.00px;top:1643px;width:57.5px">1</div>
<div class="t g" style="left:582.50px;top:1643px;width:57.5px">2</div>
<div class="t g" style="left:640.00px;top:1643px;width:57.5px">2</div>
<div class="t g" style="left:697.50px;top:1643px;width:57.5px">15</div>
<div class="b bb" style="left:761.55px;top:1648px">07</div>
<div class="b bb" style="left:819.05px;top:1648px">08</div>
<div class="t g" style="left:870.00px;top:1643px;width:57.5px">5</div>
<div class="t g" style="left:927.50px;top:1643px;width:57.5px">6</div>
<div class="t g" style="left:985.00px;top:1643px;width:57.5px">9</div>
<div class="t g" style="left:1042.50px;top:1643px;width:57.5px">4</div>
<div class="t g" style="left:1100.00px;top:1643px;width:125px">101</div>
<div class="t g" style="left:1225.00px;top:1643px;width:125px">27</div>
<div class="t g" style="left:1350.00px;top:1643px;width:125px">1:2:2</div>
<div class="t g" style="left:1475.00px;top:1643px;width:125px">3:2</div>
<div class="b rb" style="left:186.55px;top:1703px">32</div>
<div class="t r" style="left:237.50px;top:1698px;width:57.5px">1</div>
<div class="t r" style="left:295.00px;top:1698px;width:57.5px">8</div>
<div class="t r" style="left:352.50px;top:1698px;width:57.5px">9</div>
<div class="t g" style="left:410.00px;top:1698px;width:57.5px">9</div>
<div class="t g" style="left:467.50px;top:1698px;width:57.5px">2</div>
<div class="t g" style="left:525.00px;top:1698px;width:57.5px">2</div>
<div class="t g" style="left:582.50px;top:1698px;width:57.5px">3</div>
<div class="t g" style="left:640.00px;top:1698px;width:57.5px">3</div>
<div class="t g" style="left:697.50px;top:1698px;width:57.5px">16</div>
<div class="t g" style="left:755.00px;top:1698px;width:57.5px">1</div>
<div class="b bb" style="left:819.05px;top:1703px">08</div>
<div class="t g" style="left:870.00px;top:1698px;width:57.5px">6</div>
<div class="t g" style="left:927.50px;top:1698px;width:57.5px">7</div>
<div class="t g" style="left:985.00px;top:1698px;width:57.5px">10</div>
<div class="b bb" style="left:1049.05px;top:1703px">12</div>
<div class="t g" style="left:1100.00px;top:1698px;width:125px">83</div>
<div class="t g" style="left:1225.00px;top:1698px;width:125px">29</div>
<div class="t g" style="left:1350.00px;top:1698px;width:125px">2:1:2</div>
<div class="t g" style="left:1475.00px;top:1698px;width:125px">1:4</div>
<div class="b db" style="left:186.55px;top:1758px">32</div>
<div class="t r" style="left:237.50px;top:1753px;width:57.5px">2</div>
<div class="t r" style="left:295.00px;top:1753px;width:57.5px">9</div>
<div class="t r" style="left:352.50px;top:1753px;width:57.5px">10</div>
<div class="t g" style="left:410.00px;top:1753px;width:57.5px">10</div>
<div class="t g" style="left:467.50px;top:1753px;width:57.5px">3</div>
<div class="t g" style="left:525.00px;top:1753px;width:57.5px">3</div>
<div class="t g" style="left:582.50px;top:1753px;width:57.5px">4</div>
<div class="b bb" style="left:646.55px;top:1758px">05</div>
<div class="t g" style="left:697.50px;top:1753px;width:57.5px">17</div>
<div class="t g" style="left:755.00px;top:1753px;width:57.5px">2</div>
<div class="t g" style="left:812.50px;top:1753px;width:57.5px">1</div>
<div class="t g" style="left:870.00px;top:1753px;width:57.5px">7</div>
<div class="t g" style="left:927.50px;top:1753px;width:57.5px">8</div>
<div class="t g" style="left:985.00px;top:1753px;width:57.5px">11</div>
<div class="b bb" style="left:1049.05px;top:1758px">12</div>
<div class="t g" style="left:1100.00px;top:1753px;width:125px">143</div>
<div class="t g" style="left:1225.00px;top:1753px;width:125px">8</div>
<div class="t g" style="left:1350.00px;top:1753px;width:125px">0:1:4</div>
<div class="t g" style="left:1475.00px;top:1753px;width:125px">1:4</div>
<div class="t r" style="left:180.00px;top:1808px;width:57.5px">1</div>
<div class="t r" style="left:237.50px;top:1808px;width:57.5px">3</div>
<div class="t r" style="left:295.00px;top:1808px;width:57.5px">10</div>
<div class="t r" style="left:352.50px;top:1808px;width:57.5px">11</div>
<div class="b bb" style="left:416.55px;top:1813px">01</div>
<div class="t g" style="left:467.50px;top:1808px;width:57.5px">4</div>
<div class="t g" style="left:525.00px;top:1808px;width:57.5px">4</div>
<div class="t g" style="left:582.50px;top:1808px;width:57.5px">5</div>
<div class="b bb" style="left:646.55px;top:1813px">05</div>
<div class="t g" style="left:697.50px;top:1808px;width:57.5px">18</div>
<div class="t g" style="left:755.00px;top:1808px;width:57.5px">3</div>
<div class="t g" style="left:812.50px;top:1808px;width:57.5px">2</div>
<div class="t g" style="left:870.00px;top:1808px;width:57.5px">8</div>
<div class="t g" style="left:927.50px;top:1808px;width:57.5px">9</div>
<div class="t g" style="left:985.00px;top:1808px;width:57.5px">12</div>
<div class="t g" style="left:1042.50px;top:1808px;width:57.5px">1</div>
<div class="t g" style="left:1100.00px;top:1808px;width:125px">101</div>
<div class="t g" style="left:1225.00px;top:1808px;width:125px">18</div>
<div class="t g" style="left:1350.00px;top:1808px;width:125px">0:3:2</div>
<div class="t g" style="left:1475.00px;top:1808px;width:125px">3:2</div>
<div class="b rb" style="left:186.55px;top:1868px">32</div>
<div class="t r" style="left:237.50px;top:1863px;width:57.5px">4</div>
<div class="t r" style="left:295.00px;top:1863px;width:57.5px">11</div>
<div class="t r" style="left:352.50px;top:1863px;width:57.5px">12</div>
<div class="t g" style="left:410.00px;top:1863px;width:57.5px">1</div>
<div class="b bb" style="left:474.05px;top:1868px">02</div>
<div class="t g" style="left:525.00px;top:1863px;width:57.5px">5</div>
<div class="t g" style="left:582.50px;top:1863px;width:57.5px">6</div>
<div class="t g" style="left:640.00px;top:1863px;width:57.5px">1</div>
<div class="t g" style="left:697.50px;top:1863px;width:57.5px">19</div>
<div class="t g" style="left:755.00px;top:1863px;width:57.5px">4</div>
<div class="b bb" style="left:819.05px;top:1868px">08</div>
<div class="t g" style="left:870.00px;top:1863px;width:57.5px">9</div>
<div class="t g" style="left:927.50px;top:1863px;width:57.5px">10</div>
<div class="t g" style="left:985.00px;top:1863px;width:57.5px">13</div>
<div class="t g" style="left:1042.50px;top:1863px;width:57.5px">2</div>
<div class="t g" style="left:1100.00px;top:1863px;width:125px">98</div>
<div class="t g" style="left:1225.00px;top:1863px;width:125px">25</div>
<div class="t g" style="left:1350.00px;top:1863px;width:125px">2:1:2</div>
<div class="t g" style="left:1475.00px;top:1863px;width:125px">4:1</div>
<div class="s" style="left:180.00px;top:1918px;width:57.5px">32</div>
<div class="s" style="left:237.50px;top:1918px;width:57.5px">33</div>
<div class="s" style="left:295.00px;top:1918px;width:57.5px">34</div>
<div class="s" style="left:352.50px;top:1918px;width:57.5px">35</div>
<div class="s" style="left:410.00px;top:1918px;width:57.5px">01</div>
<div class="s" style="left:467.50px;top:1918px;width:57.5px">02</div>
<div class="s" style="left:525.00px;top:1918px;width:57.5px">03</div>
<div class="s" style="left:582.50px;top:1918px;width:57.5px">04</div>
<div class="s" style="left:640.00px;top:1918px;width:57.5px">05</div>
<div class="s" style="left:697.50px;top:1918px;width:57.5px">06</div>
<div class="s" style="left:755.00px;top:1918px;width:57.5px">07</div>
<div class="s" style="left:812.50px;top:1918px;width:57.5px">08</div>
<div class="s" style="left:870.00px;top:1918px;width:57.5px">09</div>
<div class="s" style="left:927.50px;top:1918px;width:57.5px">10</div>
<div class="s" style="left:985.00px;top:1918px;width:57.5px">11</div>
<div class="s" style="left:1042.50px;top:1918px;width:57.5px">12</div>
</div></div>
<div class="a" style="left:0;top:168px;width:210px;height:100px;background:#e8e8e8"></div>
<div class="a" style="left:0;top:1973px;width:210px;height:100px;background:#e8e8e8"></div>
<div class="a" style="left:0;top:268px;width:210px;height:55px;background:#fff"></div>
<div class="a" style="left:0;top:323px;width:210px;height:55px;background:#f6f6f6"></div>
<div class="a" style="left:0;top:378px;width:210px;height:55px;background:#fff"></div>
<div class="a" style="left:0;top:433px;width:210px;height:55px;background:#f6f6f6"></div>
<div class="a" style="left:0;top:488px;width:210px;height:55px;background:#fff"></div>
<div class="a" style="left:0;top:543px;width:210px;height:55px;background:#f6f6f6"></div>
<div class="a" style="left:0;top:598px;width:210px;height:55px;background:#fff"></div>
<div class="a" style="left:0;top:653px;width:210px;height:55px;background:#f6f6f6"></div>
<div class="a" style="left:0;top:708px;width:210px;height:55px;background:#fff"></div>
<div class="a" style="left:0;top:763px;width:210px;height:55px;background:#f6f6f6"></div>
<div class="a" style="left:0;top:818px;width:210px;height:55px;background:#fff"></div>
<div class="a" style="left:0;top:873px;width:210px;height:55px;background:#f6f6f6"></div>
<div class="a" style="left:0;top:928px;width:210px;height:55px;background:#fff"></div>
<div class="a" style="left:0;top:983px;width:210px;height:55px;background:#f6f6f6"></div>
<div class="a" style="left:0;top:1038px;width:210px;height:55px;background:#fff"></div>
<div class="a" style="left:0;top:1093px;width:210px;height:55px;background:#f6f6f6"></div>
<div class="a" style="left:0;top:1148px;width:210px;height:55px;background:#fff"></div>
<div class="a" style="left:0;top:1203px;width:210px;height:55px;background:#f6f6f6"></div>
<div class="a" style="left:0;top:1258px;width:210px;height:55px;background:#fff"></div>
<div class="a" style="left:0;top:1313px;width:210px;height:55px;background:#f6f6f6"></div>
<div class="a" style="left:0;top:1368px;width:210px;height:55px;background:#fff"></div>
<div class="a" style="left:0;top:1423px;width:210px;height:55px;background:#f6f6f6"></div>
<div class="a" style="left:0;top:1478px;width:210px;height:55px;background:#fff"></div>
<div class="a" style="left:0;top:1533px;width:210px;height:55px;background:#f6f6f6"></div>
<div class="a" style="left:0;top:1588px;width:210px;height:55px;background:#fff"></div>
<div class="a" style="left:0;top:1643px;width:210px;height:55px;background:#f6f6f6"></div>
<div class="a" style="left:0;top:1698px;width:210px;height:55px;background:#fff"></div>
<div class="a" style="left:0;top:1753px;width:210px;height:55px;background:#f6f6f6"></div>
<div class="a" style="left:0;top:1808px;width:210px;height:55px;background:#fff"></div>
<div class="a" style="left:0;top:1863px;width:210px;height:55px;background:#f6f6f6"></div>
<div class="a" style="left:0;top:542px;width:210px;height:2px;background:#dadada"></div>
<div class="a" style="left:0;top:1092px;width:210px;height:2px;background:#dadada"></div>
<div class="a" style="left:0;top:1642px;width:210px;height:2px;background:#dadada"></div>
<div class="t g" style="left:0.00px;top:268px;width:150px">25122</div>
<div class="t g" style="left:151.50px;top:268px;width:54px">1</div>
<div class="t g" style="left:0.00px;top:323px;width:150px">25123</div>
<div class="t g" style="left:151.50px;top:323px;width:54px">3</div>
<div class="t g" style="left:0.00px;top:378px;width:150px">25124</div>
<div class="t g" style="left:151.50px;top:378px;width:54px">6</div>
<div class="t g" style="left:0.00px;top:433px;width:150px">25125</div>
<div class="t g" style="left:151.50px;top:433px;width:54px">1</div>
<div class="t g" style="left:0.00px;top:488px;width:150px">25126</div>
<div class="t g" style="left:151.50px;top:488px;width:54px">3</div>
<div class="t g" style="left:0.00px;top:543px;width:150px">25127</div>
<div class="t g" style="left:151.50px;top:543px;width:54px">6</div>
<div class="t g" style="left:0.00px;top:598px;width:150px">25128</div>
<div class="t g" style="left:151.50px;top:598px;width:54px">1</div>
<div class="t g" style="left:0.00px;top:653px;width:150px">25129</div>
<div class="t g" style="left:151.50px;top:653px;width:54px">3</div>
<div class="t g" style="left:0.00px;top:708px;width:150px">25130</div>
<div class="t g" style="left:151.50px;top:708px;width:54px">6</div>
<div class="t g" style="left:0.00px;top:763px;width:150px">25131</div>
<div class="t g" style="left:151.50px;top:763px;width:54px">1</div>
<div class="t g" style="left:0.00px;top:818px;width:150px">25132</div>
<div class="t g" style="left:151.50px;top:818px;width:54px">3</div>
<div class="t g" style="left:0.00px;top:873px;width:150px">25133</div>
<div class="t g" style="left:151.50px;top:873px;width:54px">6</div>
<div class="t g" style="left:0.00px;top:928px;width:150px">25134</div>
<div class="t g" style="left:151.50px;top:928px;width:54px">1</div>
<div class="t g" style="left:0.00px;top:983px;width:150px">25135</div>
<div class="t g" style="left:151.50px;top:983px;width:54px">3</div>
<div class="t g" style="left:0.00px;top:1038px;width:150px">25136</div>
<div class="t g" style="left:151.50px;top:1038px;width:54px">6</div>
<div class="t g" style="left:0.00px;top:1093px;width:150px">25137</div>
<div class="t g" style="left:151.50px;top:1093px;width:54px">1</div>
<div class="t g" style="left:0.00px;top:1148px;width:150px">25138</div>
<div class="t g" style="left:151.50px;top:1148px;width:54px">3</div>
<div class="t g" style="left:0.00px;top:1203px;width:150px">25139</div>
<div class="t g" style="left:151.50px;top:1203px;width:54px">6</div>
<div class="t g" style="left:0.00px;top:1258px;width:150px">25140</div>
<div class="t g" style="left:151.50px;top:1258px;width:54px">1</div>
<div class="t g" style="left:0.00px;top:1313px;width:150px">25141</div>
<div class="t g" style="left:151.50px;top:1313px;width:54px">3</div>
<div class="t g" style="left:0.00px;top:1368px;width:150px">25142</div>
<div class="t g" style="left:151.50px;top:1368px;width:54px">6</div>
<div class="t g" style="left:0.00px;top:1423px;width:150px">25143</div>
<div class="t g" style="left:151.50px;top:1423px;width:54px">1</div>
<div class="t g" style="left:0.00px;top:1478px;width:150px">25144</div>
<div class="t g" style="left:151.50px;top:1478px;width:54px">3</div>
<div class="t g" style="left:0.00px;top:1533px;width:150px">25145</div>
<div class="t g" style="left:151.50px;top:1533px;width:54px">6</div>
<div class="t g" style="left:0.00px;top:1588px;width:150px">25146</div>
<div class="t g" style="left:151.50px;top:1588px;width:54px">1</div>
<div class="t g" style="left:0.00px;top:1643px;width:150px">25147</div>
<div class="t g" style="left:151.50px;top:1643px;width:54px">3</div>
<div class="t g" style="left:0.00px;top:1698px;width:150px">25148</div>
<div class="t g" style="left:151.50px;top:1698px;width:54px">6</div>
<div class="t g" style="left:0.00px;top:1753px;width:150px">25149</div>
<div class="t g" style="left:151.50px;top:1753px;width:54px">1</div>
<div class="t g" style="left:0.00px;top:1808px;width:150px">25150</div>
<div class="t g" style="left:151.50px;top:1808px;width:54px">3</div>
<div class="t g" style="left:0.00px;top:1863px;width:150px">26001</div>
<div class="t g" style="left:151.50px;top:1863px;width:54px">6</div>
<div class="a" style="left:0;top:1918px;width:210px;height:55px;background:#feefe9"></div>
<div class="a" style="left:48.7px;top:1927.7px;width:31.6px;height:31.6px;border:2px solid #f3a0a0;border-radius:50%"></div>
<div class="s" style="left:98px;top:1918px;width:60px;font-size:29.5px">选号</div>
<div class="h" style="left:45px;top:168px;width:60px;height:100px;line-height:102px">期次</div>
<svg class="a" style="left:108px;top:200px" width="20" height="36" viewBox="108 200 20 36"><polygon points="117.2,203.5 124.5,215 110,215" fill="#f20000"/><polygon points="110,220.6 124.5,220.6 117.2,232" fill="#666"/></svg>
<div class="h" style="left:150px;top:173.5px;width:57px;line-height:45px">星<br>期</div>
<div class="h" style="left:150px;top:1978.5px;width:57px;line-height:45px">星<br>期</div>
<div class="h" style="left:45px;top:1973px;width:60px;height:100px;line-height:99px;font-size:32px;transform:scaleX(1.5)">-</div>
<div class="vs" style="left:147.5px;top:168px;height:1750px"></div>
<div class="vs" style="left:147.5px;top:1973px;height:100px"></div>
<div class="vs" style="left:205px;top:168px;height:1750px"></div>
<div class="vs" style="left:205px;top:1973px;height:100px"></div>
<div class="vs" style="left:407.5px;top:168px;height:1750px"></div>
<div class="vs" style="left:407.5px;top:1973px;height:100px"></div>
<div class="vs" style="left:1097.5px;top:168px;height:1750px"></div>
<div class="vs" style="left:1097.5px;top:1973px;height:100px"></div>
<div class="vs" style="left:1222.5px;top:168px;height:1750px"></div>
<div class="vs" style="left:1222.5px;top:1973px;height:100px"></div>
<div class="vs" style="left:1347.5px;top:168px;height:1750px"></div>
<div class="vs" style="left:1347.5px;top:1973px;height:100px"></div>
<div class="vs" style="left:1472.5px;top:168px;height:1750px"></div>
<div class="vs" style="left:1472.5px;top:1973px;height:100px"></div>
<div class="vs" style="left:205px;top:1918px;height:55px"></div>
<div class="vs" style="left:407.5px;top:1918px;height:55px"></div>
<div class="vs" style="left:1097.5px;top:1918px;height:55px"></div>
<div class="a" style="left:0;top:763px;width:1600px;height:55px;background:rgba(245,148,152,0.3)"></div>
<div class="a" style="left:0;top:763px;width:212px;height:55px;background:rgba(245,148,152,0.3)"></div>
<div class="a" style="left:0;top:1313px;width:1600px;height:55px;background:rgba(245,148,152,0.3)"></div>
<div class="a" style="left:0;top:1313px;width:212px;height:55px;background:rgba(245,148,152,0.3)"></div>
<div class="a" style="left:0;top:1863px;width:1600px;height:55px;background:rgba(245,148,152,0.3)"></div>
<div class="a" style="left:0;top:1863px;width:212px;height:55px;background:rgba(245,148,152,0.3)"></div>
<div class="a" style="left:1512px;top:1986px;width:140px;height:70px;border-radius:35px;background:#c6c6c6"></div>
<div class="a" style="left:1524px;top:1986px;width:64px;height:70px;line-height:68px;font-size:30px;color:#fff;white-space:nowrap;-webkit-text-stroke:0.4px">展开</div>
</body></html>
